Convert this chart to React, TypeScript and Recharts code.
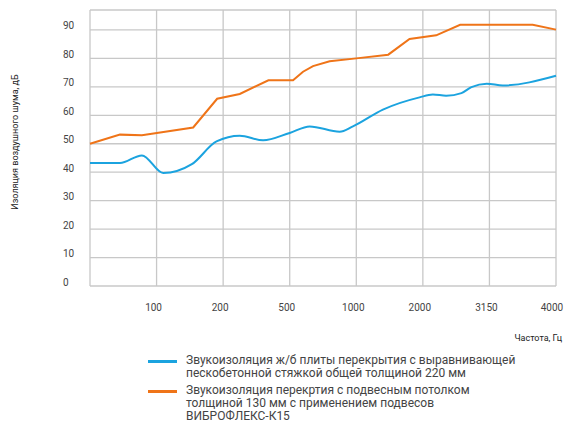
import { CartesianGrid, Label, Line, LineChart, XAxis, YAxis } from 'recharts'

// позиции частот на оси (в делениях сетки) и подписи
const freqTicks = [0, 1, 2, 3, 4, 5, 6, 7]
const freqLabels = ['', '100', '200', '500', '1000', '2000', '3150', '4000']
const dbTicks = [0, 10, 20, 30, 40, 50, 60, 70, 80, 90]

// ж/б плита + стяжка 220 мм
const slabPos = [0, 0.45, 0.78, 1.1, 1.53, 1.9, 2.25, 2.6, 3.0, 3.3, 3.75, 3.95, 4.4, 4.95, 5.15, 5.35, 5.58, 5.73, 5.96, 6.2, 7]
const slabDb = [43.2, 43.2, 45.9, 39.7, 42.8, 50.8, 52.8, 51.2, 53.8, 56.1, 54.2, 56.1, 62, 66.3, 67.3, 66.9, 67.8, 69.9, 71.1, 70.5, 73.9]

// перекрытие с подвесным потолком ВИБРОФЛЕКС-К15
const ceilPos = [0, 0.45, 0.78, 1.55, 1.91, 2.25, 2.68, 3.05, 3.2, 3.35, 3.6, 4.0, 4.48, 4.8, 5.2, 5.56, 6.65, 7]
const ceilDb = [50, 53.2, 53, 55.7, 65.8, 67.5, 72.3, 72.3, 75.3, 77.3, 79, 80, 81.3, 86.8, 88.1, 91.8, 91.8, 90.1]

const legendItems = [
    { color: '#1ba3df', lines: ['Звукоизоляция ж/б плиты перекрытия с выравнивающей', 'пескобетонной стяжкой общей толщиной 220 мм'] },
    {
        color: '#ef7418',
        lines: ['Звукоизоляция перекртия с подвесным потолком', 'толщиной 130 мм с применением подвесов', 'ВИБРОФЛЕКС-К15']
    }
]

const slabData = slabPos.map((pos, i) => ({ pos, value: slabDb[i] }))
const ceilData = ceilPos.map((pos, i) => ({ pos, value: ceilDb[i] }))

const font = 'Roboto, "Noto Sans", sans-serif'

const YTick = ({ x, y, payload }: any) => (
    <text x={x - 19} y={y - 4} textAnchor="start" dominantBaseline="central" fontSize={10} fill="#444" fontFamily={font}>
        {payload.value}
    </text>
)

export default function App() {
    return (
        <div style={{ position: 'absolute', left: 0, top: 0, width: 565, height: 425, background: '#fff', overflow: 'hidden' }}>
            <LineChart width={565} height={345} margin={{ top: 10, right: 9, left: 0, bottom: 0 }}>
                <CartesianGrid stroke="#c8c8c8" strokeWidth={1.3} />
                <XAxis
                    type="number"
                    dataKey="pos"
                    domain={[0, 7]}
                    ticks={freqTicks}
                    tickFormatter={(v: number) => freqLabels[v]}
                    axisLine={false}
                    tickLine={false}
                    height={59}
                    tickMargin={12}
                    tick={{ fontSize: 10, fill: '#444', fontFamily: font, dx: -3 }}
                    allowDuplicatedCategory={false}
                >
                    <Label
                        content={({ viewBox }: any) => (
                            <text
                                x={viewBox.x + viewBox.width + 6}
                                y={viewBox.y + 55}
                                textAnchor="end"
                                fontSize={9}
                                fill="#222"
                                fontFamily={font}
                            >
                                Частота, Гц
                            </text>
                        )}
                    />
                </XAxis>
                <YAxis
                    type="number"
                    domain={[0, 97]}
                    ticks={dbTicks}
                    axisLine={false}
                    tickLine={false}
                    width={90}
                    tick={<YTick />}
                >
                    <Label
                        content={({ viewBox }: any) => {
                            const cx = viewBox.x + 15
                            const cy = viewBox.y + viewBox.height / 2 - 6
                            return (
                                <text
                                    x={cx}
                                    y={cy}
                                    transform={`rotate(-90 ${cx} ${cy})`}
                                    textAnchor="middle"
                                    dominantBaseline="central"
                                    fontSize={9}
                                    fill="#222"
                                    fontFamily={font}
                                >
                                    Изоляция воздушного шума, дБ
                                </text>
                            )
                        }}
                    />
                </YAxis>
                <Line data={slabData} dataKey="value" type="monotone" stroke="#1ba3df" strokeWidth={2} dot={false} isAnimationActive={false} />
                <Line data={ceilData} dataKey="value" type="linear" stroke="#ef7418" strokeWidth={2} dot={false} isAnimationActive={false} />
            </LineChart>
            <div style={{ position: 'absolute', left: 148, top: 354, fontFamily: font, fontSize: 12, lineHeight: '13px', color: '#444' }}>
                {legendItems.map((item, i) => (
                    <div key={i} style={{ display: 'flex', alignItems: 'flex-start', marginBottom: 4 }}>
                        <div style={{ width: 29, height: 3, background: item.color, marginTop: 6, marginRight: 9, flexShrink: 0 }} />
                        <div>
                            {item.lines.map((l, j) => (
                                <div key={j}>{l}</div>
                            ))}
                        </div>
                    </div>
                ))}
            </div>
        </div>
    )
}
